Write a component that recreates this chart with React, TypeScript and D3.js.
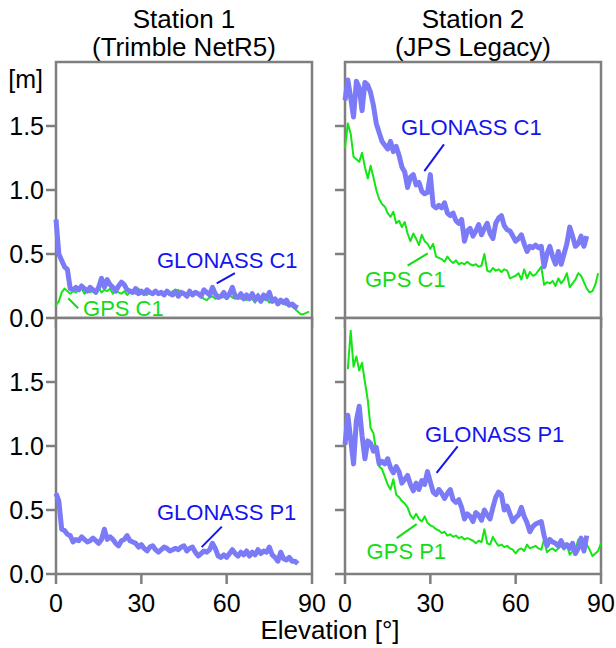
import React from 'react'
import * as d3 from 'd3'

// elevation bins are 1 degree wide; each series lists its values from its first bin
const glonassC1St1 = [0.77, 0.5, 0.45, 0.4, 0.38, 0.23, 0.22, 0.24, 0.22, 0.25, 0.23, 0.21, 0.24, 0.22, 0.2, 0.24, 0.31, 0.24, 0.3, 0.26, 0.24, 0.21, 0.25, 0.28, 0.26, 0.22, 0.21, 0.2, 0.23, 0.19, 0.21, 0.19, 0.22, 0.2, 0.19, 0.21, 0.19, 0.2, 0.18, 0.21, 0.19, 0.18, 0.21, 0.17, 0.2, 0.19, 0.17, 0.21, 0.18, 0.2, 0.19, 0.17, 0.22, 0.2, 0.18, 0.24, 0.19, 0.16, 0.17, 0.2, 0.16, 0.19, 0.24, 0.17, 0.16, 0.19, 0.15, 0.18, 0.15, 0.19, 0.14, 0.17, 0.13, 0.18, 0.15, 0.2, 0.13, 0.15, 0.11, 0.14, 0.12, 0.14, 0.1, 0.11, 0.09, 0.08]
const gpsC1St1 = [0.1, 0.13, 0.2, 0.23, 0.21, 0.19, 0.21, 0.2, 0.22, 0.23, 0.19, 0.21, 0.2, 0.22, 0.19, 0.24, 0.2, 0.22, 0.21, 0.23, 0.19, 0.21, 0.2, 0.19, 0.21, 0.18, 0.2, 0.21, 0.19, 0.23, 0.19, 0.2, 0.18, 0.21, 0.19, 0.2, 0.18, 0.21, 0.19, 0.2, 0.18, 0.21, 0.19, 0.22, 0.18, 0.2, 0.17, 0.22, 0.19, 0.2, 0.18, 0.17, 0.15, 0.14, 0.16, 0.17, 0.15, 0.17, 0.18, 0.16, 0.17, 0.18, 0.16, 0.15, 0.17, 0.15, 0.16, 0.14, 0.16, 0.15, 0.12, 0.19, 0.15, 0.14, 0.15, 0.12, 0.14, 0.13, 0.11, 0.12, 0.11, 0.1, 0.11, 0.09, 0.07, 0.05, 0.03, 0.03, 0.04, 0.05]
const glonassP1St1 = [0.63, 0.57, 0.35, 0.34, 0.31, 0.3, 0.25, 0.27, 0.26, 0.29, 0.27, 0.25, 0.26, 0.28, 0.26, 0.24, 0.27, 0.35, 0.27, 0.29, 0.27, 0.24, 0.22, 0.26, 0.27, 0.3, 0.26, 0.25, 0.24, 0.21, 0.23, 0.2, 0.18, 0.21, 0.22, 0.19, 0.17, 0.19, 0.21, 0.2, 0.18, 0.19, 0.2, 0.19, 0.21, 0.22, 0.18, 0.2, 0.21, 0.17, 0.14, 0.16, 0.18, 0.17, 0.19, 0.24, 0.2, 0.14, 0.13, 0.15, 0.13, 0.16, 0.19, 0.16, 0.14, 0.17, 0.15, 0.18, 0.14, 0.17, 0.15, 0.19, 0.16, 0.18, 0.17, 0.21, 0.15, 0.13, 0.1, 0.17, 0.12, 0.11, 0.13, 0.1, 0.1, 0.08]
const glonassC1St2 = [1.7, 1.86, 1.72, 1.57, 1.85, 1.8, 1.62, 1.84, 1.82, 1.76, 1.66, 1.52, 1.45, 1.38, 1.35, 1.32, 1.38, 1.3, 1.34, 1.27, 1.18, 1.14, 1.02, 1.1, 1.12, 1.04, 1.06, 0.99, 0.97, 0.98, 1.12, 0.88, 0.86, 0.88, 0.86, 0.9, 0.82, 0.8, 0.82, 0.76, 0.74, 0.77, 0.6, 0.68, 0.7, 0.64, 0.68, 0.73, 0.65, 0.7, 0.74, 0.66, 0.62, 0.74, 0.78, 0.8, 0.72, 0.69, 0.68, 0.64, 0.6, 0.62, 0.65, 0.58, 0.52, 0.56, 0.55, 0.57, 0.55, 0.56, 0.4, 0.5, 0.56, 0.48, 0.42, 0.52, 0.42, 0.5, 0.58, 0.71, 0.64, 0.56, 0.58, 0.64, 0.56, 0.64]
const gpsC1St2 = [1.33, 1.52, 1.44, 1.26, 1.24, 1.22, 1.29, 1.18, 1.09, 1.19, 1.1, 1.0, 0.93, 0.89, 0.87, 0.82, 0.79, 0.83, 0.74, 0.76, 0.71, 0.75, 0.66, 0.6, 0.66, 0.62, 0.57, 0.65, 0.6, 0.58, 0.54, 0.58, 0.48, 0.47, 0.46, 0.44, 0.48, 0.45, 0.43, 0.45, 0.42, 0.43, 0.42, 0.44, 0.42, 0.41, 0.42, 0.4, 0.41, 0.5, 0.37, 0.36, 0.39, 0.37, 0.38, 0.36, 0.38, 0.37, 0.31, 0.32, 0.33, 0.35, 0.3, 0.38, 0.31, 0.36, 0.33, 0.34, 0.37, 0.4, 0.26, 0.28, 0.27, 0.29, 0.25, 0.31, 0.27, 0.3, 0.35, 0.24, 0.27, 0.3, 0.35, 0.33, 0.28, 0.23, 0.2, 0.21, 0.26, 0.35]
const glonassP1St2 = [1.01, 1.24, 1.05, 0.86, 1.2, 1.31, 1.08, 0.9, 1.04, 1.02, 0.96, 0.99, 0.86, 0.88, 0.86, 0.9, 0.83, 0.79, 0.84, 0.8, 0.71, 0.74, 0.77, 0.7, 0.65, 0.71, 0.66, 0.73, 0.7, 0.8, 0.72, 0.64, 0.62, 0.66, 0.63, 0.59, 0.63, 0.66, 0.58, 0.56, 0.58, 0.52, 0.43, 0.47, 0.45, 0.41, 0.48, 0.46, 0.42, 0.5, 0.46, 0.43, 0.52, 0.6, 0.64, 0.62, 0.5, 0.53, 0.47, 0.41, 0.44, 0.46, 0.52, 0.45, 0.4, 0.33, 0.37, 0.39, 0.4, 0.41, 0.3, 0.22, 0.27, 0.25, 0.24, 0.22, 0.26, 0.21, 0.23, 0.2, 0.24, 0.16, 0.2, 0.28, 0.18, 0.3]
// GPS P1 at station 2 starts at 1 degree
const gpsP1St2 = [1.6, 1.9, 1.62, 1.7, 1.59, 1.65, 1.5, 1.36, 1.14, 1.1, 0.95, 0.84, 0.82, 0.76, 0.7, 0.66, 0.74, 0.62, 0.6, 0.57, 0.55, 0.52, 0.46, 0.43, 0.47, 0.43, 0.41, 0.45, 0.4, 0.38, 0.37, 0.35, 0.34, 0.32, 0.33, 0.3, 0.31, 0.29, 0.3, 0.28, 0.29, 0.27, 0.28, 0.27, 0.26, 0.24, 0.26, 0.25, 0.35, 0.24, 0.23, 0.29, 0.25, 0.22, 0.23, 0.21, 0.22, 0.2, 0.19, 0.16, 0.19, 0.2, 0.18, 0.23, 0.2, 0.21, 0.22, 0.2, 0.19, 0.27, 0.17, 0.19, 0.2, 0.18, 0.2, 0.22, 0.19, 0.23, 0.15, 0.18, 0.19, 0.27, 0.2, 0.19, 0.23, 0.19, 0.14, 0.16, 0.18, 0.24]

const stations = ['Station 1', 'Station 2']
const receivers = ['(Trimble NetR5)', '(JPS Legacy)']
const xTicks = [0, 30, 60, 90]
const yTicks = [0, 0.5, 1.0, 1.5]

const BLUE_LINE = '#7b7bf7'
const GREEN_LINE = '#14e614'
const BLUE_TEXT = '#1414f0'
const GREEN_TEXT = '#14dc14'
const GRAY = '#7f7f7f'
const FONT = '"Liberation Sans", Arial, sans-serif'

const panels = [
  {
    col: 0, row: 0,
    series: [
      { values: gpsC1St1, start: 0, glonass: false },
      { values: glonassC1St1, start: 0, glonass: true },
    ],
    labels: [
      { text: 'GLONASS C1', glonass: true, at: [35.5, 0.39], leader: [[62.9, 0.35], [56.5, 0.27]] },
      { text: 'GPS C1', glonass: false, at: [9.5, 0.012], leader: [[4.3, 0.154], [7.8, 0.076]] },
    ],
  },
  {
    col: 1, row: 0,
    series: [
      { values: gpsC1St2, start: 0, glonass: false },
      { values: glonassC1St2, start: 0, glonass: true },
    ],
    labels: [
      { text: 'GLONASS C1', glonass: true, at: [19.7, 1.43], leader: [[34.8, 1.357], [27.9, 1.148]] },
      { text: 'GPS C1', glonass: false, at: [7.0, 0.246], leader: [[29.1, 0.505], [22.0, 0.41]] },
    ],
  },
  {
    col: 0, row: 1,
    series: [{ values: glonassP1St1, start: 0, glonass: true }],
    labels: [
      { text: 'GLONASS P1', glonass: true, at: [35.5, 0.42], leader: [[58.3, 0.37], [51.2, 0.21]] },
    ],
  },
  {
    col: 1, row: 1,
    series: [
      { values: gpsP1St2, start: 1, glonass: false },
      { values: glonassP1St2, start: 0, glonass: true },
    ],
    labels: [
      { text: 'GLONASS P1', glonass: true, at: [28.1, 1.035], leader: [[39.6, 0.998], [32.2, 0.79]] },
      { text: 'GPS P1', glonass: false, at: [7.6, 0.117], leader: [[25.2, 0.39], [18.2, 0.28]] },
    ],
  },
]

const lefts = [56, 345]
const tops = [62, 318]
const PW = 256
const PH = 256

const Panel = ({ p }) => {
  const x0 = lefts[p.col]
  const y0 = tops[p.row]
  const x = d3.scaleLinear().domain([0, 90]).range([x0, x0 + PW])
  const y = d3.scaleLinear().domain([0, 2]).range([y0 + PH, y0])
  const line = d3.line<[number, number]>().x(d => x(d[0])).y(d => y(d[1]))
  const leaderLine = d3.line<number[]>().x(d => x(d[0])).y(d => y(d[1]))

  return (
    <g>
      <rect x={x0} y={y0} width={PW} height={PH} fill="white" stroke={GRAY} strokeWidth={2.5} />
      {p.series.map((s, i) => (
        <path
          key={i}
          d={line(s.values.map((v, j) => [j + s.start, v]))}
          fill="none"
          stroke={s.glonass ? BLUE_LINE : GREEN_LINE}
          strokeWidth={s.glonass ? 5 : 2}
          strokeLinejoin="round"
        />
      ))}
      {p.labels.map((l, i) => (
        <g key={i}>
          <path d={leaderLine(l.leader)} stroke={l.glonass ? BLUE_TEXT : GREEN_TEXT} strokeWidth={2} fill="none" />
          <text x={x(l.at[0])} y={y(l.at[1])} fill={l.glonass ? BLUE_TEXT : GREEN_TEXT} fontSize={22} fontFamily={FONT}>
            {l.text}
          </text>
        </g>
      ))}
      {/* y ticks outward on the left */}
      {yTicks.map(t => (
        <line key={t} x1={x0 - 10} x2={x0} y1={y(t)} y2={y(t)} stroke={GRAY} strokeWidth={2.5} />
      ))}
      {p.col === 0 && yTicks.map(t => (
        <text key={t} x={x0 - 12} y={y(t)} dy="0.36em" textAnchor="end" fontSize={25} fontFamily={FONT}>
          {d3.format('.1f')(t)}
        </text>
      ))}
      {/* x ticks outward at the bottom */}
      {xTicks.map(t => (
        <line key={t} x1={x(t)} x2={x(t)} y1={y0 + PH} y2={y0 + PH + 10} stroke={GRAY} strokeWidth={2.5} />
      ))}
      {p.row === 1 && xTicks.map(t => (
        <text key={t} x={x(t)} y={612} textAnchor="middle" fontSize={25} fontFamily={FONT}>
          {t}
        </text>
      ))}
    </g>
  )
}

const App = () => {
  return (
    <div style={{ position: 'absolute', left: 0, top: 0 }}>
      <svg width={616} height={648} style={{ display: 'block', background: 'white' }}>
        {stations.map((s, i) => (
          <g key={s}>
            <text x={lefts[i] + PW / 2} y={28} textAnchor="middle" fontSize={26} fontFamily={FONT}>{s}</text>
            <text x={lefts[i] + PW / 2} y={56} textAnchor="middle" fontSize={26} fontFamily={FONT}>{receivers[i]}</text>
          </g>
        ))}
        <text x={43} y={88} textAnchor="end" fontSize={25} fontFamily={FONT}>[m]</text>
        {panels.map((p, i) => <Panel key={i} p={p} />)}
        <text x={330} y={639} textAnchor="middle" fontSize={26} fontFamily={FONT}>Elevation [°]</text>
      </svg>
    </div>
  )
}

export default App
